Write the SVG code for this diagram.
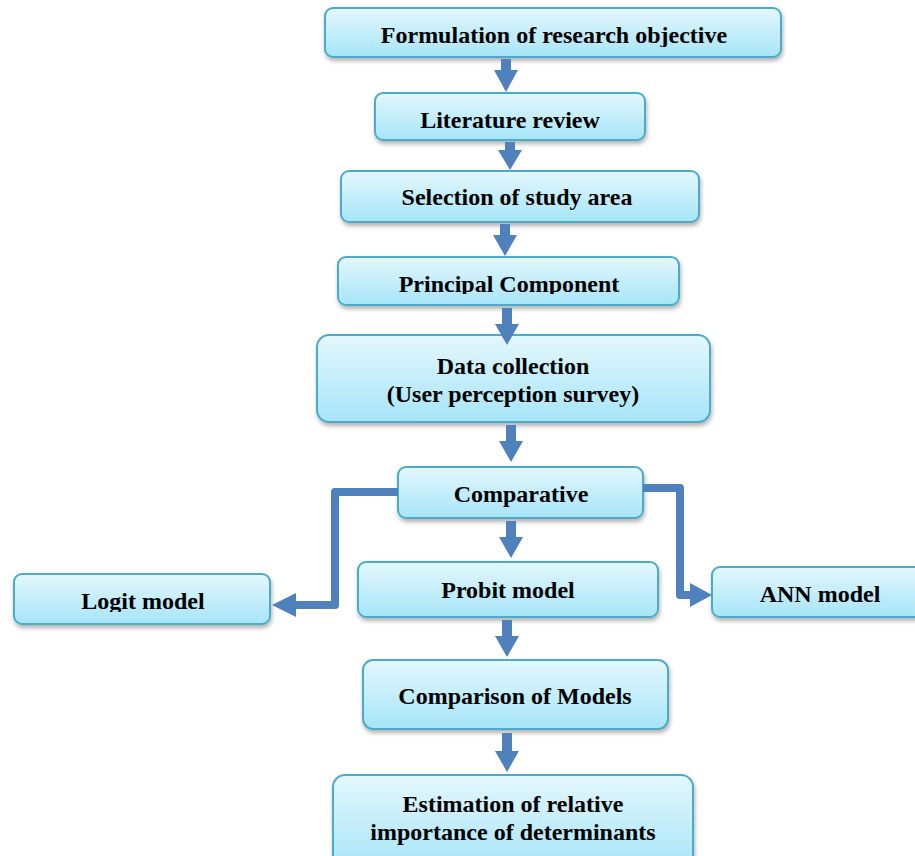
<svg xmlns="http://www.w3.org/2000/svg" width="915" height="856" viewBox="0 0 915 856">
<defs>
<linearGradient id="g" x1="0" y1="0" x2="0" y2="1">
<stop offset="0" stop-color="#e4f7fd"/>
<stop offset="1" stop-color="#a6e5f8"/>
</linearGradient>
<filter id="sh" x="-10%" y="-20%" width="120%" height="150%">
<feDropShadow dx="1" dy="3" stdDeviation="2" flood-color="#000" flood-opacity="0.3"/>
</filter>
<clipPath id="c1"><rect x="0" y="0" width="915" height="47"/></clipPath>
<clipPath id="c4"><rect x="0" y="0" width="915" height="294"/></clipPath>
<clipPath id="cl"><rect x="0" y="0" width="915" height="612"/></clipPath>
</defs>
<style>
.box{fill:url(#g);stroke:#4babc8;stroke-width:2;filter:url(#sh)}
.t{font-family:"Liberation Serif","Times New Roman",serif;font-weight:bold;font-size:24px;fill:#000;text-anchor:middle}
.ar{fill:#4f81bd}
.ln{fill:none;stroke:#4f81bd;stroke-width:8;stroke-linejoin:round}
</style>
<rect width="915" height="856" fill="#fff"/>
<g id="n1"><rect class="box" x="325" y="8" width="456" height="49" rx="8"/><text class="t" x="554" y="43" clip-path="url(#c1)">Formulation of research objective</text></g>
<g id="n2"><rect class="box" x="375" y="93" width="270" height="47" rx="8"/><text class="t" x="510" y="128">Literature review</text></g>
<g id="n3"><rect class="box" x="341" y="171" width="358" height="51" rx="8"/><text class="t" x="517" y="205">Selection of study area</text></g>
<g id="n4"><rect class="box" x="338" y="257" width="341" height="48" rx="8"/><text class="t" x="509" y="292" clip-path="url(#c4)">Principal Component</text></g>
<g id="n5"><rect class="box" x="317" y="335" width="393" height="87" rx="12"/><text class="t" x="513" y="374">Data collection</text><text class="t" x="513" y="402">(User perception survey)</text></g>
<g id="n6"><rect class="box" x="398" y="467" width="245" height="51" rx="8"/><text class="t" x="521" y="502">Comparative</text></g>
<g id="n7"><rect class="box" x="14" y="574" width="256" height="50" rx="8"/><text class="t" x="143" y="609" clip-path="url(#cl)">Logit model</text></g>
<g id="n8"><rect class="box" x="358" y="562" width="300" height="55" rx="8"/><text class="t" x="508" y="598">Probit model</text></g>
<g id="n9"><rect class="box" x="712" y="567" width="215" height="50" rx="8"/><text class="t" x="820" y="602">ANN model</text></g>
<g id="n10"><rect class="box" x="363" y="660" width="305" height="69" rx="10"/><text class="t" x="515" y="704">Comparison of Models</text></g>
<g id="n11"><rect class="box" x="333" y="775" width="360" height="95" rx="12"/><text class="t" x="513" y="812">Estimation of relative</text><text class="t" x="513" y="840">importance of determinants</text></g>
<g id="connectors">
<polygon class="ar" points="501,59 511,59 511,70 518,70 506,92 494,70 501,70"/>
<polygon class="ar" points="505,142 515,142 515,150 522,150 510,170 498,150 505,150"/>
<polygon class="ar" points="500,224 510,224 510,235 517,235 505,256 493,235 500,235"/>
<polygon class="ar" points="502,308 512,308 512,324 519,324 507,345 495,324 502,324"/>
<polygon class="ar" points="506,425 516,425 516,441 523,441 511,462 499,441 506,441"/>
<polygon class="ar" points="506,521 516,521 516,537 523,537 511,558 499,537 506,537"/>
<polygon class="ar" points="502,620 512,620 512,636 519,636 507,657 495,636 502,636"/>
<polygon class="ar" points="502,733 512,733 512,751 519,751 507,772 495,751 502,751"/>
<path class="ln" d="M398,492 H335 V605 H295"/>
<polygon class="ar" points="296,593 272,605 296,617"/>
<path class="ln" d="M643,488 H680 V595 H691"/>
<polygon class="ar" points="690,583 712,595 690,607"/>
</g>
</svg>
